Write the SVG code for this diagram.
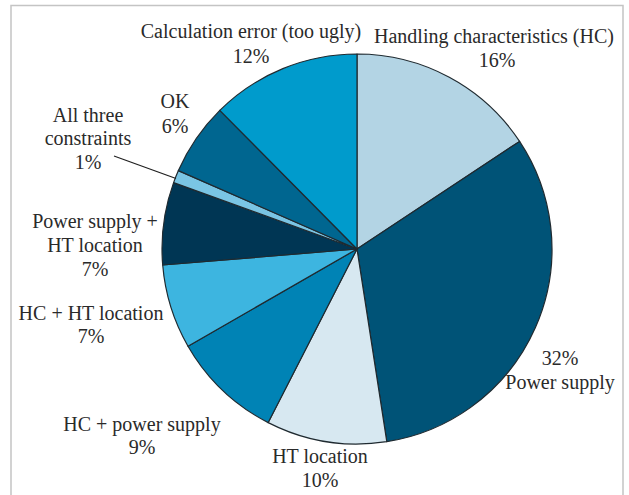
<svg xmlns="http://www.w3.org/2000/svg" width="629" height="495" viewBox="0 0 629 495">
<style>
.s{stroke:#1f2a30;stroke-width:1.2;stroke-linejoin:round}
.t{font-family:"Liberation Serif","Times New Roman",serif;font-size:20px;fill:#2a2a2a;text-anchor:middle}
.frame{fill:none;stroke:#c4c4c4;stroke-width:1.5}
</style>
<rect width="629" height="495" fill="#ffffff"/>
<path class="frame" d="M11,495 L11,5.5 L623,5.5 L623,495"/>
<g id="hc">
<path class="s" fill="#b3d4e4" d="M357,249 L357,54 A195,195 0 0 1 519.6,141.4 Z"/>
<text class="t" x="494" y="43">Handling characteristics (HC)</text>
<text class="t" x="497" y="67">16%</text>
</g>
<g id="power-supply">
<path class="s" fill="#005377" d="M357,249 L519.6,141.4 A195,195 0 0 1 386.8,441.7 Z"/>
<text class="t" x="560" y="365">32%</text>
<text class="t" x="560" y="389">Power supply</text>
</g>
<g id="ht-location">
<path class="s" fill="#d7e8f1" d="M357,249 L386.8,441.7 A195,195 0 0 1 268.2,422.6 Z"/>
<text class="t" x="320" y="463">HT location</text>
<text class="t" x="320" y="487">10%</text>
</g>
<g id="hc-power">
<path class="s" fill="#0083b5" d="M357,249 L268.2,422.6 A195,195 0 0 1 188,346.2 Z"/>
<text class="t" x="142" y="431">HC + power supply</text>
<text class="t" x="142" y="454">9%</text>
</g>
<g id="hc-ht">
<path class="s" fill="#3db5e0" d="M357,249 L188,346.2 A195,195 0 0 1 162.7,265 Z"/>
<text class="t" x="91" y="320">HC + HT location</text>
<text class="t" x="91" y="343">7%</text>
</g>
<g id="power-ht">
<path class="s" fill="#003654" d="M357,249 L162.7,265 A195,195 0 0 1 173.6,182.6 Z"/>
<text class="t" x="95" y="228">Power supply +</text>
<text class="t" x="95" y="252">HT location</text>
<text class="t" x="95" y="276">7%</text>
</g>
<g id="all-three">
<path class="s" fill="#7ac5e4" d="M357,249 L173.6,182.6 A195,195 0 0 1 178.4,170.6 Z"/>
<text class="t" x="88" y="122">All three</text>
<text class="t" x="88" y="145">constraints</text>
<text class="t" x="88" y="169">1%</text>
</g>
<g id="ok">
<path class="s" fill="#006690" d="M357,249 L178.4,170.6 A195,195 0 0 1 219.8,110.4 Z"/>
<text class="t" x="175" y="108">OK</text>
<text class="t" x="175" y="133">6%</text>
</g>
<g id="calc-error">
<path class="s" fill="#009bcc" d="M357,249 L219.8,110.4 A195,195 0 0 1 357,54 Z"/>
<text class="t" x="251" y="38">Calculation error (too ugly)</text>
<text class="t" x="251" y="63">12%</text>
</g>
<g id="connectors">
<line x1="114" y1="156" x2="176" y2="178.5" stroke="#1f1f1f" stroke-width="1.2"/>
</g>
</svg>
